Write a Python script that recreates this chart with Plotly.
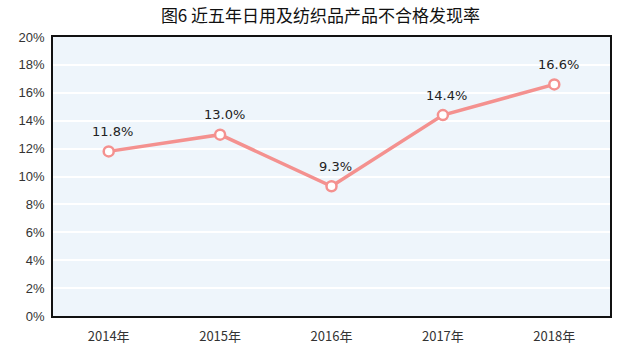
import plotly.graph_objects as go

years = ["2014年", "2015年", "2016年", "2017年", "2018年"]
rates = [11.8, 13.0, 9.3, 14.4, 16.6]
labels = ["11.8%", "13.0%", "9.3%", "14.4%", "16.6%"]
y_ticks = [0, 2, 4, 6, 8, 10, 12, 14, 16, 18, 20]
y_tick_text = [f"{v}%" for v in y_ticks]
title = "图6 近五年日用及纺织品产品不合格发现率"

fig = go.Figure()
fig.add_trace(go.Scatter(
    x=years, y=rates, mode="lines+markers",
    line=dict(color="#F4918F", width=3.5),
    marker=dict(size=10, color="white", line=dict(color="#F4918F", width=2.5)),
    cliponaxis=False,
))

for xv, yv, lab in zip(years, rates, labels):
    fig.add_annotation(x=xv, y=yv, text=lab, showarrow=False, yshift=20, xshift=4,
                       font=dict(family="DejaVu Sans, sans-serif", size=13, color="#222222"))

fig.update_layout(
    width=641, height=351,
    margin=dict(l=53, r=31, t=37, b=35),
    paper_bgcolor="white",
    plot_bgcolor="#EEF5FB",
    showlegend=False,
    title=dict(text=title, x=0.5, xanchor="center", y=0.955, yanchor="middle",
               font=dict(family="Noto Sans CJK SC, sans-serif", size=17, color="#111111")),
    xaxis=dict(type="category", range=[-0.5, 4.5], showgrid=False, zeroline=False,
               showline=True, mirror=True, linecolor="#111111", linewidth=1.5,
               ticks="", ticklabelstandoff=8, automargin=False,
               tickfont=dict(family="Noto Sans CJK SC, sans-serif", size=13, color="#333333")),
    yaxis=dict(range=[0, 20], tickvals=y_ticks, ticktext=y_tick_text,
               showgrid=True, gridcolor="white", gridwidth=1.5, zeroline=False,
               showline=True, mirror=True, linecolor="#111111", linewidth=1.5,
               ticks="", ticklabelstandoff=4, automargin=False,
               tickfont=dict(family="Liberation Sans Narrow, Arial, sans-serif", size=13, color="#333333")),
)

fig.write_html("out.html")
